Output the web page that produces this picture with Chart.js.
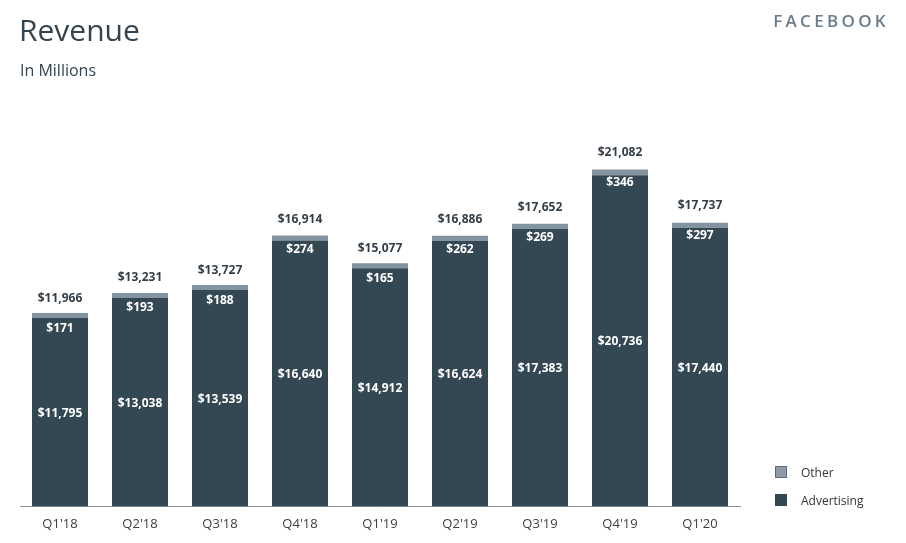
<!DOCTYPE html>
<html><head><meta charset="utf-8">
<script src="https://cdn.jsdelivr.net/npm/chart.js@4"></script>
<style>
body{margin:0;background:#fff;width:906px;height:543px;overflow:hidden;font-family:"Open Sans",sans-serif;}
#wrap{position:relative;width:906px;height:543px;}
canvas{position:absolute;left:0;top:0;}
.t{position:absolute;color:#2f3f4b;white-space:nowrap;}
.lg{position:absolute;width:12px;height:12px;box-sizing:border-box;}
</style></head><body>
<div id="wrap">
<canvas id="c" width="906" height="543"></canvas>
<div class="t" style="left:19px;top:9px;font-size:30px;color:#34444f;">Revenue</div>
<div class="t" style="left:20px;top:59px;font-size:16px;color:#34444f;">In Millions</div>
<div class="t" style="right:17px;top:9px;font-size:17px;letter-spacing:3.3px;color:#6b7c89;font-weight:600;">FACEBOOK</div>
<div class="lg" style="left:775px;top:466px;background:#8d9ca8;border:1px solid #5b6c78;"></div>
<div class="t" style="left:801px;top:464px;font-size:12px;color:#333;">Other</div>
<div class="lg" style="left:775px;top:494px;background:#344854;"></div>
<div class="t" style="left:801px;top:492px;font-size:12px;color:#333;">Advertising</div>
</div>
<script>
const categories = ["Q1'18","Q2'18","Q3'18","Q4'18","Q1'19","Q2'19","Q3'19","Q4'19","Q1'20"];
const advertising = [11795,13038,13539,16640,14912,16624,17383,20736,17440];
const other = [171,193,188,274,165,262,269,346,297];
const totals = [11966,13231,13727,16914,15077,16886,17652,21082,17737];
const fmt = v => '$' + v.toLocaleString('en-US');

const labelPlugin = {
  id:'labels',
  afterDatasetsDraw(chart){
    const ctx = chart.ctx, y = chart.scales.y, x = chart.scales.x;
    ctx.save();
    ctx.textAlign='center';
    ctx.textBaseline='middle';
    ctx.font='bold 12px "Open Sans"';
    categories.forEach((c,i)=>{
      const cx = x.getPixelForValue(i);
      const top = y.getPixelForValue(advertising[i]+other[i]);
      const base = y.getPixelForValue(0);
      const advTop = y.getPixelForValue(advertising[i]);
      ctx.fillStyle='#333e47';
      ctx.fillText(fmt(totals[i]), cx, top-17);
      ctx.fillStyle='#ffffff';
      ctx.fillText(fmt(other[i]), cx, top+13);
      ctx.fillText(fmt(advertising[i]), cx, (advTop+base)/2+1);
    });
    ctx.restore();
  }
};

new Chart(document.getElementById('c'),{
  type:'bar',
  data:{labels:categories,datasets:[
    {label:'Advertising',data:advertising,backgroundColor:'#344854',categoryPercentage:1,barPercentage:0.7,borderWidth:0},
    {label:'Other',data:other,backgroundColor:'#8393a0',categoryPercentage:1,barPercentage:0.7,borderWidth:0,minBarLength:5}
  ]},
  options:{
    responsive:false,animation:false,
    layout:{padding:{left:20,right:166,top:123,bottom:9}},
    plugins:{legend:{display:false},tooltip:{enabled:false}},
    scales:{
      x:{stacked:true,grid:{display:false},border:{display:true,color:'#8c959c',width:1},
         ticks:{color:'#3a3f44',font:{family:'"Open Sans"',size:13},padding:2}},
      y:{stacked:true,display:false,min:0,max:24000}
    }
  },
  plugins:[labelPlugin]
});
</script>
</body></html>
